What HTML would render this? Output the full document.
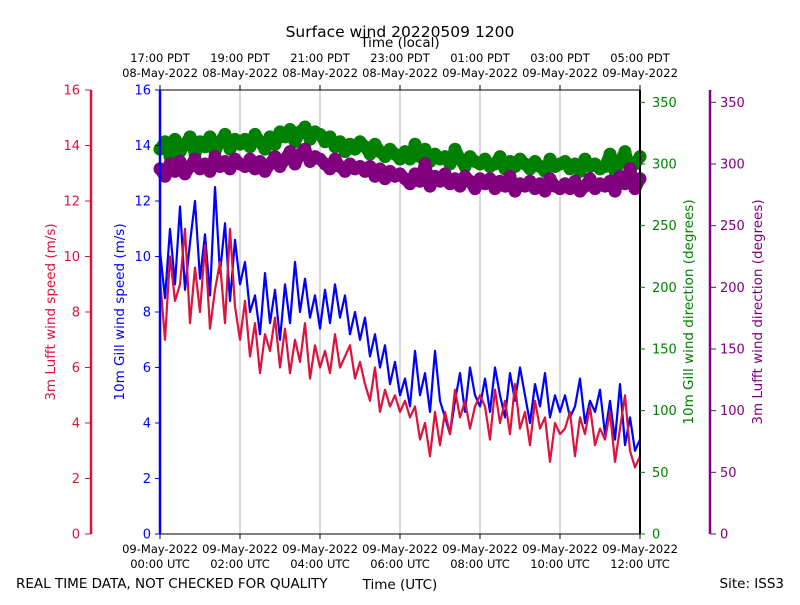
<!DOCTYPE html>
<html><head><meta charset="utf-8"><style>
body{margin:0;background:#fff}
svg{font-family:"DejaVu Sans","Liberation Sans",sans-serif}
</style></head><body>
<svg id="c" width="800" height="600" xmlns="http://www.w3.org/2000/svg"></svg>
<script>
const gillSpeed=[10.2,8.5,11.0,9.0,11.8,8.8,10.5,12.0,9.2,
10.8,8.6,12.5,9.4,11.2,8.4,10.6,9.0,
9.8,8.0,8.6,7.2,9.4,7.6,8.8,7.0,
9.0,7.6,9.8,8.0,9.2,7.8,8.6,7.4,
8.8,7.6,9.0,7.8,8.6,7.2,8.0,7.0,
7.8,6.4,7.2,6.0,6.8,5.4,6.2,5.0,
5.6,4.6,6.6,5.0,5.8,4.4,6.6,4.8,
4.2,3.6,4.8,5.8,4.4,6.0,5.0,4.6,
5.6,4.4,6.0,5.0,4.2,5.8,4.8,6.0,
5.0,4.0,5.4,4.6,5.8,4.2,5.0,4.4,
5.0,4.2,4.6,5.6,4.0,4.8,4.4,5.2,
3.6,4.8,3.4,5.4,3.2,4.2,3.0,3.4];
const lufftSpeed=[9.2,7.0,10.0,8.4,9.0,11.0,7.6,9.6,8.0,
10.4,7.4,8.8,9.8,7.6,11.0,8.2,7.0,
8.4,6.4,7.6,5.8,7.2,6.6,7.8,6.0,
7.4,5.8,7.0,6.2,7.6,5.6,6.8,6.0,
6.6,5.8,7.2,6.0,6.4,6.8,5.6,6.2,
5.4,4.8,6.0,4.4,5.2,4.6,5.0,4.4,
4.8,4.2,4.6,3.4,4.0,2.8,4.4,3.2,
4.4,3.6,5.2,4.2,4.8,3.8,4.6,5.0,
4.6,3.4,5.2,4.0,4.8,3.6,5.4,3.8,
4.4,3.2,4.8,3.8,4.2,2.6,4.0,3.6,
3.8,4.4,2.8,4.2,3.6,4.6,3.2,3.8,
3.4,4.4,2.6,3.8,5.0,3.0,2.4,2.8];
const gillDir=[312,318,306,320,310,316,322,308,318,
314,322,310,318,324,312,320,316,
320,314,324,318,312,322,316,326,
322,328,318,326,330,320,326,324,
318,322,314,318,310,316,312,318,
314,308,316,310,306,312,308,304,
310,304,316,306,312,302,308,304,
306,300,312,304,298,306,302,300,
304,298,300,306,296,302,298,304,
300,296,302,298,294,304,298,300,
302,296,300,294,304,298,300,296,
298,308,294,302,310,296,300,306];
const lufftDir=[296,290,300,294,302,292,298,304,296,
300,294,306,298,302,296,304,300,
298,304,296,302,294,300,306,298,
304,310,300,308,312,302,306,304,
300,296,304,298,294,300,296,298,
294,298,290,296,288,294,290,292,
288,284,292,286,300,282,290,286,
292,284,288,282,290,286,280,288,
284,288,280,286,282,290,278,284,
282,286,280,284,278,288,282,280,
284,280,286,278,282,288,280,284,
282,286,278,290,284,296,280,288];
const speedTicks=[0,2,4,6,8,10,12,14,16];
const dirTicks=[0,50,100,150,200,250,300,350];
const utcLabels=[["09-May-2022","00:00 UTC"],["09-May-2022","02:00 UTC"],["09-May-2022","04:00 UTC"],["09-May-2022","06:00 UTC"],["09-May-2022","08:00 UTC"],["09-May-2022","10:00 UTC"],["09-May-2022","12:00 UTC"]];
const localLabels=[["17:00 PDT","08-May-2022"],["19:00 PDT","08-May-2022"],["21:00 PDT","08-May-2022"],["23:00 PDT","08-May-2022"],["01:00 PDT","09-May-2022"],["03:00 PDT","09-May-2022"],["05:00 PDT","09-May-2022"]];

const L=160,R=640,T=90,B=534;
const NS="http://www.w3.org/2000/svg";
const svg=document.getElementById('c');
const xh=h=>L+(R-L)*h/12;
const xi=(i,n)=>L+(R-L)*i/(n-1);
const ys=v=>B-(B-T)*v/16;
const yd=v=>B-(B-T)*v/360;
function mk(tag,at,txt){const e=document.createElementNS(NS,tag);for(const k in at)e.setAttribute(k,at[k]);if(txt!==undefined)e.textContent=txt;svg.appendChild(e);return e;}

for(let h=2;h<12;h+=2){const g=mk('line',{x1:xh(h),x2:xh(h),y1:T,y2:B,stroke:'#b0b0b0','stroke-width':1});

}

function dots(arr,col,name){
const d=arr.map((v,i)=>(i?'L':'M')+xi(i,arr.length).toFixed(1)+' '+yd(v).toFixed(1)).join(' ');
const band=mk('path',{d:d,fill:'none',stroke:col,'stroke-width':12,'stroke-linejoin':'round','stroke-linecap':'round'});


arr.forEach((v,i)=>{const c=mk('circle',{cx:xi(i,arr.length),cy:yd(v),r:6.5,fill:col});

});}
dots(gillDir,'#008000','gill-direction-point');
dots(lufftDir,'#800080','lufft-direction-point');

function line(arr,col,name){const d=arr.map((v,i)=>(i?'L':'M')+xi(i,arr.length).toFixed(1)+' '+ys(v).toFixed(1)).join(' ');
const p=mk('path',{d:d,fill:'none',stroke:col,'stroke-width':2.2,'stroke-linejoin':'round'});

}
line(gillSpeed,'#0000ff','gill-speed-line');
line(lufftSpeed,'#dc143c','lufft-speed-line');

mk('line',{x1:L,x2:R,y1:T,y2:T,stroke:'#000','stroke-width':1});
mk('line',{x1:L,x2:R,y1:B,y2:B,stroke:'#000','stroke-width':1});
mk('line',{x1:L,x2:L,y1:T,y2:B,stroke:'#0000ff','stroke-width':2.5});
mk('line',{x1:R,x2:R,y1:T,y2:B,stroke:'#000','stroke-width':2});
mk('line',{x1:91,x2:91,y1:T,y2:B,stroke:'#dc143c','stroke-width':2.5});
mk('line',{x1:710,x2:710,y1:T,y2:B,stroke:'#800080','stroke-width':2.5});

speedTicks.forEach(v=>{const y=ys(v);
mk('line',{x1:L-5,x2:L,y1:y,y2:y,stroke:'#0000ff'});
const t1=mk('text',{x:L-9,y:y+4.5,'text-anchor':'end','font-size':13,fill:'#0000ff'},v);


mk('line',{x1:85,x2:91,y1:y,y2:y,stroke:'#dc143c'});
const t2=mk('text',{x:80,y:y+4.5,'text-anchor':'end','font-size':13,fill:'#dc143c'},v);

});
dirTicks.forEach(v=>{const y=yd(v);
mk('line',{x1:R,x2:R+5,y1:y,y2:y,stroke:'#008000'});
const t1=mk('text',{x:R+12,y:y+4.5,'font-size':13,fill:'#008000'},v);


mk('line',{x1:710,x2:716,y1:y,y2:y,stroke:'#800080'});
const t2=mk('text',{x:720,y:y+4.5,'font-size':13,fill:'#800080'},v);

});
utcLabels.forEach((l,i)=>{const x=xh(i*2);
mk('line',{x1:x,x2:x,y1:B,y2:B+5,stroke:'#000'});
const t=mk('text',{x:x,y:553,'text-anchor':'middle','font-size':11.5});


const a=document.createElementNS(NS,'tspan');a.setAttribute('x',x);a.textContent=l[0];t.appendChild(a);
const b=document.createElementNS(NS,'tspan');b.setAttribute('x',x);b.setAttribute('dy',15);b.textContent=l[1];t.appendChild(b);});
localLabels.forEach((l,i)=>{const x=xh(i*2);
mk('line',{x1:x,x2:x,y1:T-5,y2:T,stroke:'#000'});
const t=mk('text',{x:x,y:62,'text-anchor':'middle','font-size':11.5});


const a=document.createElementNS(NS,'tspan');a.setAttribute('x',x);a.textContent=l[0];t.appendChild(a);
const b=document.createElementNS(NS,'tspan');b.setAttribute('x',x);b.setAttribute('dy',15);b.textContent=l[1];t.appendChild(b);});
</script>
<svg width="800" height="600" style="position:absolute;left:0;top:0" xmlns="http://www.w3.org/2000/svg">
<text x="400" y="37" text-anchor="middle" font-size="15.5">Surface wind 20220509 1200</text>
<text x="400" y="47" text-anchor="middle" font-size="13.5">Time (local)</text>
<text x="400" y="589" text-anchor="middle" font-size="13.5">Time (UTC)</text>
<text x="16" y="588" font-size="13.5">REAL TIME DATA, NOT CHECKED FOR QUALITY</text>
<text x="784" y="588" text-anchor="end" font-size="13.5">Site: ISS3</text>
<text transform="translate(55,312) rotate(-90)" text-anchor="middle" font-size="13.5" fill="#dc143c">3m Lufft wind speed (m/s)</text>
<text transform="translate(124,312) rotate(-90)" text-anchor="middle" font-size="13.5" fill="#0000ff">10m Gill wind speed (m/s)</text>
<text transform="translate(693,312) rotate(-90)" text-anchor="middle" font-size="13.5" fill="#008000">10m Gill wind direction (degrees)</text>
<text transform="translate(762,312) rotate(-90)" text-anchor="middle" font-size="13.5" fill="#800080">3m Lufft wind direction (degrees)</text>
</svg>
</body></html>
